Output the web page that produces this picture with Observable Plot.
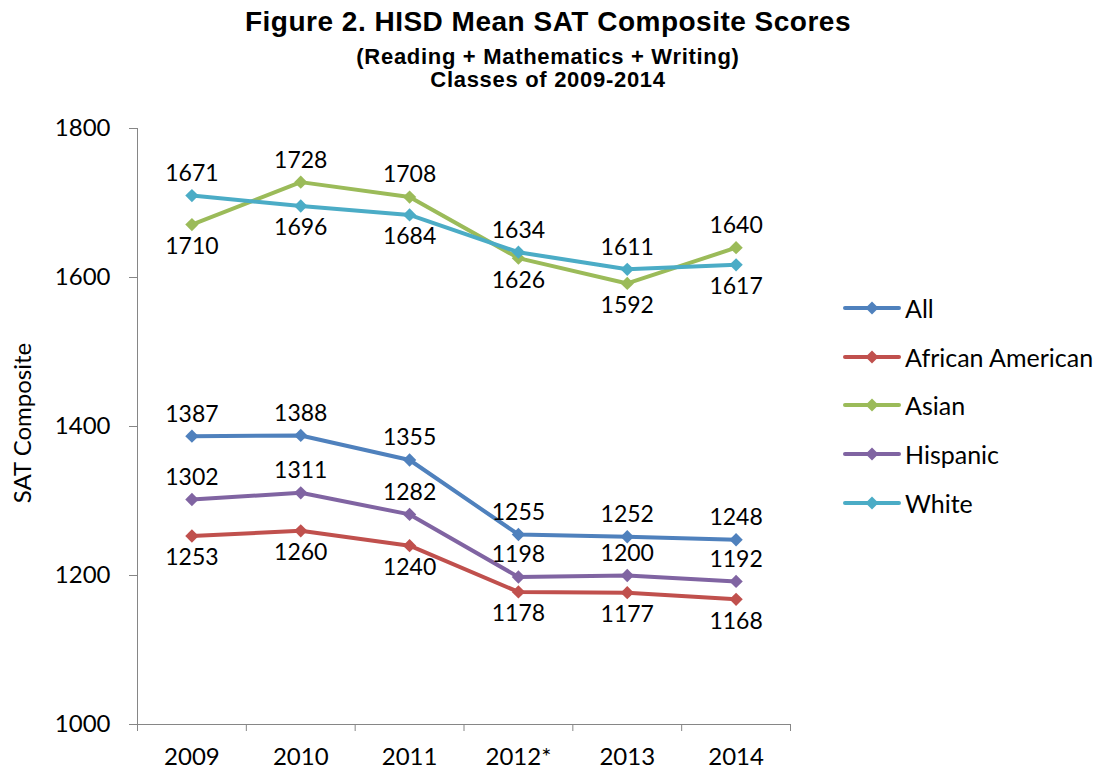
<!DOCTYPE html>
<html><head><meta charset="utf-8">
<script src="https://cdn.jsdelivr.net/npm/d3@7"></script>
<script src="https://cdn.jsdelivr.net/npm/@observablehq/plot@0.6"></script>
<style>
body{margin:0;background:#fff;}
#wrap{position:relative;width:1096px;height:773px;overflow:hidden;}
.t{position:absolute;left:0;width:1096px;text-align:center;font-family:"Liberation Sans",Arial,sans-serif;font-weight:bold;color:#000;white-space:nowrap;}
#chart{position:absolute;left:0;top:0;}
.ylab{position:absolute;left:21px;top:423px;transform:translate(-50%,-50%) rotate(-90deg);font-family:Lato,sans-serif;font-size:24px;color:#000;white-space:nowrap;}
.leg{position:absolute;left:843px;font-family:Lato,sans-serif;font-size:25px;color:#000;display:flex;align-items:center;white-space:nowrap;transform:translateY(-50%);}
.leg svg{margin-right:4px;}
</style></head><body>
<div id="wrap">
<div class="t" style="top:6px;font-size:28px;letter-spacing:0.5px">Figure 2. HISD Mean SAT Composite Scores</div>
<div class="t" style="top:44px;font-size:22px;letter-spacing:0.7px">(Reading + Mathematics + Writing)</div>
<div class="t" style="top:67px;font-size:22px;letter-spacing:0.7px">Classes of 2009-2014</div>
<div id="chart"></div>
<div class="ylab">SAT Composite</div>
<div id="legend"></div>
</div>
<script>
const years = ["2009", "2010", "2011", "2012*", "2013", "2014"];
const series = ["All", "African American", "Asian", "Hispanic", "White"];
const colors = ["#4F81BD", "#C0504D", "#9BBB59", "#8064A2", "#4BACC6"];
const allScores = [1387, 1388, 1355, 1255, 1252, 1248];
const africanAmerican = [1253, 1260, 1240, 1178, 1177, 1168];
const asian = [1671, 1728, 1708, 1626, 1592, 1640];
const hispanic = [1302, 1311, 1282, 1198, 1200, 1192];
const white = [1710, 1696, 1684, 1634, 1611, 1617];
const yTicks = [1000, 1200, 1400, 1600, 1800];

// label placement (above / below the point)
const labelSide = {
  "All": ["above","above","above","above","above","above"],
  "African American": ["below","below","below","below","below","below"],
  "Asian": ["above","above","above","below","below","above"],
  "Hispanic": ["above","above","above","above","above","above"],
  "White": ["below","below","below","above","above","below"]
};
const pairGroup = ["Asian", "White"];

const valuesBySeries = {"All": allScores, "African American": africanAmerican, "Asian": asian, "Hispanic": hispanic, "White": white};
const rows = [];
for (const s of series) {
  valuesBySeries[s].forEach((v, i) => {
    const side = labelSide[s][i];
    let anchor = v;
    if (pairGroup.includes(s)) {
      const pv = pairGroup.map(p => valuesBySeries[p][i]);
      anchor = side === "above" ? Math.max(...pv) : Math.min(...pv);
    }
    rows.push({series: s, i, value: v, anchor, side});
  });
}
const idx = years.map((d, i) => i);
const bounds = years.map((d, i) => i - 0.5).concat([years.length - 0.5]);

const chart = Plot.plot({
  width: 1096, height: 773,
  marginLeft: 137, marginRight: 306, marginTop: 128, marginBottom: 49,
  style: {fontFamily: "Lato, sans-serif", fontSize: "23px", color: "#000", background: "transparent", overflow: "visible"},
  x: {type: "linear", domain: [-0.5, years.length - 0.5]},
  y: {domain: [1000, 1800]},
  color: {domain: series, range: colors},
  marks: [
    Plot.ruleX([-0.5], {stroke: "#868686", strokeWidth: 1}),
    Plot.ruleY([1000], {stroke: "#868686", strokeWidth: 1}),
    Plot.axisY({ticks: yTicks, tickSize: 8, tickPadding: 19, stroke: "#868686", strokeOpacity: 1, label: null, tickFormat: d => String(d), fill: "#000", fontSize: 24}),
    Plot.axisX({ticks: bounds, tickSize: 7, tickFormat: () => "", stroke: "#868686", strokeOpacity: 1, label: null}),
    Plot.axisX({ticks: idx, tickSize: 0, tickPadding: 23, tickFormat: i => years[i], label: null, fill: "#000", fontSize: 24}),
    Plot.line(rows, {x: "i", y: "value", z: "series", stroke: "series", strokeWidth: 4, strokeLinejoin: "round"}),
    Plot.dot(rows, {x: "i", y: "value", fill: "series", symbol: "diamond2", r: 6}),
    Plot.text(rows.filter(d => d.side === "above"), {x: "i", y: "anchor", text: d => String(d.value), dy: -22, fill: "#000", fontSize: 23}),
    Plot.text(rows.filter(d => d.side === "below"), {x: "i", y: "anchor", text: d => String(d.value), dy: 22, fill: "#000", fontSize: 23})
  ]
});
document.getElementById("chart").appendChild(chart);

// legend
const legendY = [308, 357, 405, 454, 503];
const legend = document.getElementById("legend");
series.forEach((s, k) => {
  const div = document.createElement("div");
  div.className = "leg";
  div.style.top = legendY[k] + "px";
  const c = colors[k];
  div.innerHTML = `<svg width="58" height="16"><line x1="2" y1="8" x2="56" y2="8" stroke="${c}" stroke-width="4" stroke-linecap="round"/><path d="M29,1.5 L35.5,8 L29,14.5 L22.5,8 Z" fill="${c}"/></svg><span>${s}</span>`;
  legend.appendChild(div);
});
</script>
</body></html>
